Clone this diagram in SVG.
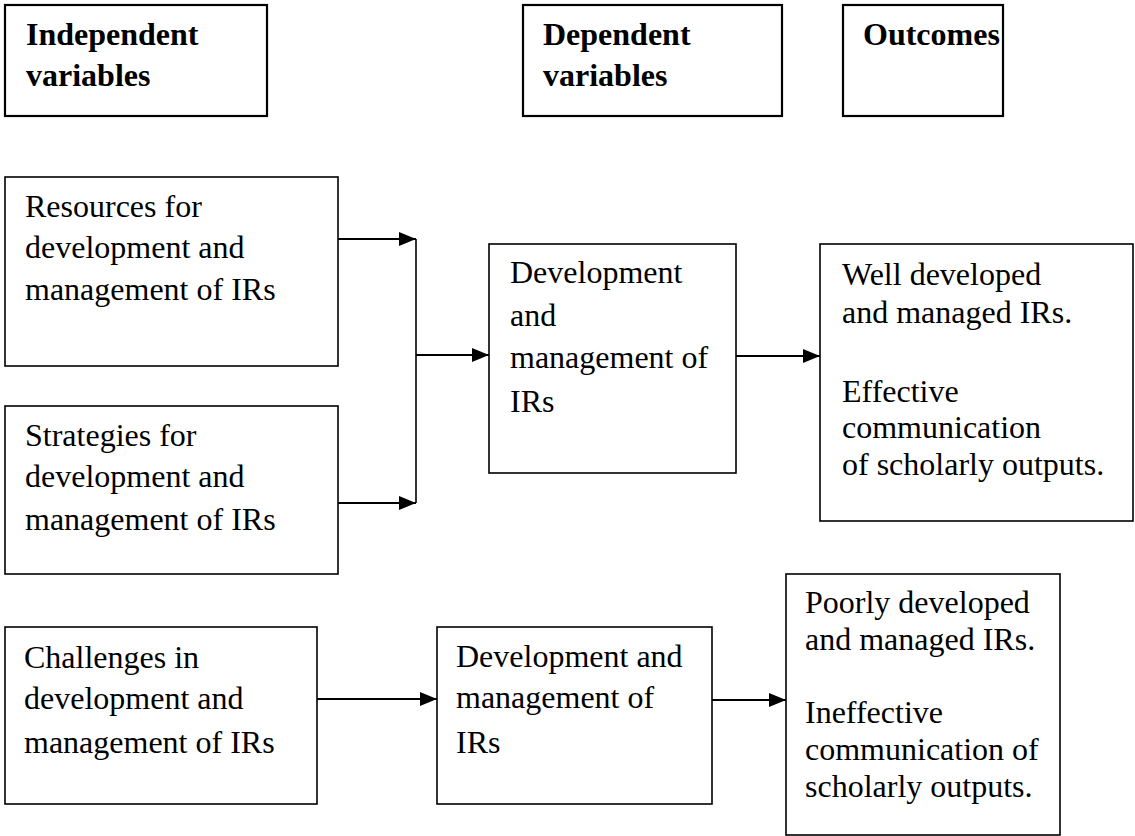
<svg xmlns="http://www.w3.org/2000/svg" width="1135" height="836" viewBox="0 0 1135 836">
  <style>
    .hdr { fill: #fff; stroke: #000; stroke-width: 2.2; }
    .box { fill: #fff; stroke: #000; stroke-width: 1.6; }
    text { font-family: "Liberation Serif", "Times New Roman", serif; font-size: 32px; fill: #000; }
    .b { font-weight: bold; }
    .conn { stroke: #000; stroke-width: 2; fill: none; }
    .vline { stroke: #000; stroke-width: 1.6; fill: none; }
  </style>
  <defs>
    <marker id="arr" markerUnits="userSpaceOnUse" markerWidth="17" markerHeight="14" refX="17" refY="7" orient="auto">
      <path d="M0,0 L17,7 L0,14 z" fill="#000"/>
    </marker>
  </defs>
  <rect width="1135" height="836" fill="#fff"/>

  <g id="hdr-independent">
    <rect class="hdr" x="5" y="5" width="262" height="111"/>
    <text class="b" x="26" y="45">Independent</text>
    <text class="b" x="26" y="86">variables</text>
  </g>
  <g id="hdr-dependent">
    <rect class="hdr" x="523" y="5" width="259" height="111"/>
    <text class="b" x="543" y="45">Dependent</text>
    <text class="b" x="543" y="86">variables</text>
  </g>
  <g id="hdr-outcomes">
    <rect class="hdr" x="843" y="5" width="160" height="111"/>
    <text class="b" x="863" y="45">Outcomes</text>
  </g>

  <g id="resources">
    <rect class="box" x="5" y="177" width="333" height="189"/>
    <text x="25" y="217">Resources for</text>
    <text x="25" y="258">development and</text>
    <text x="25" y="300">management of IRs</text>
  </g>
  <g id="strategies">
    <rect class="box" x="5" y="406" width="333" height="168"/>
    <text x="25" y="446">Strategies for</text>
    <text x="25" y="487">development and</text>
    <text x="25" y="530">management of IRs</text>
  </g>
  <g id="dev1">
    <rect class="box" x="489" y="244" width="247" height="229"/>
    <text x="510" y="283">Development</text>
    <text x="510" y="326">and</text>
    <text x="510" y="368">management of</text>
    <text x="510" y="412">IRs</text>
  </g>
  <g id="outcome1">
    <rect class="box" x="820" y="244" width="313" height="277"/>
    <text x="842" y="285">Well developed</text>
    <text x="842" y="323">and managed IRs.</text>
    <text x="842" y="402">Effective</text>
    <text x="842" y="438">communication</text>
    <text x="842" y="475">of scholarly outputs.</text>
  </g>

  <g id="challenges">
    <rect class="box" x="5" y="627" width="312" height="177"/>
    <text x="24" y="668">Challenges in</text>
    <text x="24" y="709">development and</text>
    <text x="24" y="753">management of IRs</text>
  </g>
  <g id="dev2">
    <rect class="box" x="437" y="627" width="275" height="177"/>
    <text x="456" y="667">Development and</text>
    <text x="456" y="708">management of</text>
    <text x="456" y="753">IRs</text>
  </g>
  <g id="outcome2">
    <rect class="box" x="786" y="574" width="274" height="261"/>
    <text x="805" y="613">Poorly developed</text>
    <text x="805" y="650">and managed IRs.</text>
    <text x="805" y="723">Ineffective</text>
    <text x="805" y="760">communication of</text>
    <text x="805" y="797">scholarly outputs.</text>
  </g>

  <g id="connectors">
    <line class="conn" x1="338" y1="239" x2="416" y2="239" marker-end="url(#arr)"/>
    <line class="conn" x1="338" y1="503" x2="416" y2="503" marker-end="url(#arr)"/>
    <line class="vline" x1="416" y1="239" x2="416" y2="503"/>
    <line class="conn" x1="416" y1="355" x2="489" y2="355" marker-end="url(#arr)"/>
    <line class="conn" x1="736" y1="356" x2="820" y2="356" marker-end="url(#arr)"/>
    <line class="conn" x1="317" y1="699" x2="437" y2="699" marker-end="url(#arr)"/>
    <line class="conn" x1="712" y1="700" x2="786" y2="700" marker-end="url(#arr)"/>
  </g>
</svg>
